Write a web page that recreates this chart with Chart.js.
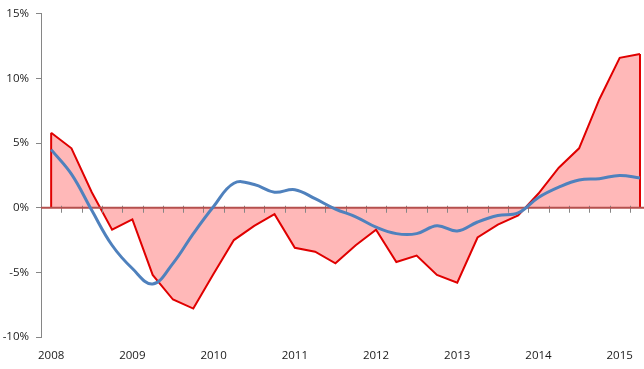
<!DOCTYPE html>
<html>
<head>
<meta charset="utf-8">
<script src="https://cdn.jsdelivr.net/npm/chart.js@4.4.1/dist/chart.umd.min.js"></script>
<style>
  html, body { margin: 0; padding: 0; background: #fff; overflow: hidden; }
  #wrap { position: absolute; left: 0; top: 0; width: 652px; height: 369px; }
</style>
</head>
<body>
<div id="wrap"><canvas id="myChart"></canvas></div>
<script>
// quarterly data, 2008 Q1 .. 2015 Q2
const quarters = [
  '2008 Q1', '2008 Q2', '2008 Q3', '2008 Q4',
  '2009 Q1', '2009 Q2', '2009 Q3', '2009 Q4',
  '2010 Q1', '2010 Q2', '2010 Q3', '2010 Q4',
  '2011 Q1', '2011 Q2', '2011 Q3', '2011 Q4',
  '2012 Q1', '2012 Q2', '2012 Q3', '2012 Q4',
  '2013 Q1', '2013 Q2', '2013 Q3', '2013 Q4',
  '2014 Q1', '2014 Q2', '2014 Q3', '2014 Q4',
  '2015 Q1', '2015 Q2'
];
const yearLabels = ['2008', '2009', '2010', '2011', '2012', '2013', '2014', '2015'];

const redValues = [
  5.8, 4.6, 1.2, -1.7,
  -0.9, -5.2, -7.1, -7.8,
  -5.1, -2.5, -1.4, -0.5,
  -3.1, -3.4, -4.3, -2.9,
  -1.7, -4.2, -3.7, -5.2,
  -5.8, -2.3, -1.3, -0.6,
  1.1, 3.1, 4.6, 8.4,
  11.6, 11.9
];
const blueValues = [
  4.5, 2.6, -0.2, -2.9,
  -4.7, -5.9, -4.3, -2.0,
  0.1, 1.9, 1.8, 1.2,
  1.4, 0.7, -0.1, -0.7,
  -1.5, -2.0, -2.0, -1.4,
  -1.8, -1.1, -0.6, -0.4,
  0.8, 1.6, 2.15, 2.25,
  2.5, 2.3
];
const yTicks = [-10, -5, 0, 5, 10, 15];

const axisGray = '#868686';

// zero line with quarter ticks, and the closing edges of the area
const zeroAxis = {
  id: 'zeroAxis',
  afterDatasetDraw(chart, args) {
    if (args.index !== 1) return;
    const ctx = chart.ctx;
    const x = chart.scales.x, y = chart.scales.y;
    const y0 = y.getPixelForValue(0);
    const pts = args.meta.data;
    ctx.save();
    // closing vertical edges of the red area
    ctx.strokeStyle = '#e00000';
    ctx.lineWidth = 2;
    [pts[0], pts[pts.length - 1]].forEach(p => {
      ctx.beginPath();
      ctx.moveTo(p.x, y0);
      ctx.lineTo(p.x, p.y);
      ctx.stroke();
    });
    // ticks between categories
    ctx.strokeStyle = axisGray;
    ctx.lineWidth = 1;
    for (let i = 0; i < quarters.length; i++) {
      const px = Math.round(x.getPixelForValue(i) + (x.getPixelForValue(1) - x.getPixelForValue(0)) / 2) + 0.5;
      ctx.beginPath();
      ctx.moveTo(px, y0 - 2);
      ctx.lineTo(px, y0 + 5);
      ctx.stroke();
    }
    ctx.strokeStyle = '#b5504e';
    ctx.lineWidth = 2;
    ctx.beginPath();
    ctx.moveTo(x.left, y0);
    ctx.lineTo(x.right, y0);
    ctx.stroke();
    ctx.restore();
  }
};

const ctx = document.getElementById('myChart');
const myChart = new Chart(ctx, {
  type: 'line',
  data: {
    labels: quarters,
    datasets: [{
      label: 'blue',
      data: blueValues,
      borderColor: '#4f81bd',
      borderWidth: 3,
      tension: 0.4,
      fill: false,
      pointRadius: 0,
      order: 0
    }, {
      label: 'red',
      data: redValues,
      borderColor: '#e00000',
      backgroundColor: 'rgba(255, 0, 0, 0.28)',
      borderWidth: 2,
      tension: 0,
      fill: 'origin',
      pointRadius: 0,
      order: 1
    }]
  },
  options: {
    responsive: true,
    maintainAspectRatio: false,
    animation: false,
    layout: { padding: { top: 12, left: 0, right: 0, bottom: 0 } },
    plugins: {
      legend: { display: false },
      tooltip: { enabled: false }
    },
    scales: {
      x: {
        type: 'category',
        offset: true,
        grid: { display: false, drawTicks: false },
        border: { display: false },
        ticks: {
          autoSkip: false,
          maxRotation: 0,
          padding: 12,
          color: '#1a1a1a',
          font: { family: 'Open Sans', size: 11.5 },
          callback: (v, i) => i % 4 === 0 ? yearLabels[i / 4] : ''
        },
        afterFit: s => { s.height = 32; }
      },
      y: {
        min: -10,
        max: 15,
        afterBuildTicks: s => { s.ticks = yTicks.map(v => ({ value: v })); },
        grid: { drawOnChartArea: false, drawTicks: true, tickLength: 5, color: axisGray },
        border: { color: axisGray },
        ticks: {
          padding: 7,
          color: '#1a1a1a',
          font: { family: 'Open Sans', size: 11.5 },
          callback: v => v + '%'
        },
        afterFit: s => { s.width = 41; }
      }
    }
  },
  plugins: [zeroAxis]
});
</script>
</body>
</html>
